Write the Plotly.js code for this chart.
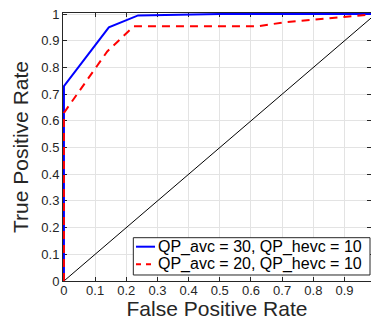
<!DOCTYPE html>
<html><head><meta charset="utf-8">
<script src="https://cdn.plot.ly/plotly-3.0.1.min.js"></script>
<style>html,body{margin:0;padding:0;background:#fff;}#chart{width:371px;height:320px;}</style>
</head><body><div id="chart"></div>
<script>
const seriesNames = ["QP_avc = 30, QP_hevc = 10", "QP_avc = 20, QP_hevc = 10"];
const seriesColors = ['#0000ff', '#ff0000'];
const fprAvc30 = [0, 0, 0.144, 0.238, 0.5, 1];
const tprAvc30 = [0, 0.73, 0.95, 0.995, 1, 1];
const fprAvc20 = [0, 0, 0.139, 0.224, 0.62, 0.7, 0.8, 0.9, 1];
const tprAvc20 = [0, 0.63, 0.86, 0.954, 0.954, 0.968, 0.979, 0.99, 1];
const chanceX = [0, 1];
const chanceY = [0, 1];

const FONT = 'Liberation Sans, Arial, Helvetica, sans-serif';
const data = [
  {x: chanceX, y: chanceY, mode: 'lines', line: {color: '#000', width: 1}, showlegend: false, hoverinfo: 'skip'},
  {x: fprAvc30, y: tprAvc30, mode: 'lines', name: seriesNames[0], line: {color: seriesColors[0], width: 2}, showlegend: false},
  {x: fprAvc20, y: tprAvc20, mode: 'lines', name: seriesNames[1], line: {color: seriesColors[1], width: 2, dash: '8px,6px'}, showlegend: false}
];
const axisCommon = {
  showgrid: true, gridcolor: '#e3e3e3', gridwidth: 1,
  showline: true, linecolor: '#262626', linewidth: 1,
  ticks: 'inside', ticklen: 4, tickcolor: '#262626', mirror: 'ticks',
  zeroline: false, dtick: 0.1, tick0: 0, layer: 'below traces',
  tickfont: {family: FONT, size: 13, color: '#262626'}
};
// manual legend (box, line samples, labels) in paper coordinates
const legBox = {x0: 0.2283, x1: 0.9968, y0: 0.0224, y1: 0.1616};
const legRows = [0.128, 0.0623];
const shapes = [
  {type: 'rect', xref: 'paper', yref: 'paper', x0: legBox.x0, x1: legBox.x1, y0: legBox.y0, y1: legBox.y1,
   line: {color: '#262626', width: 1}, fillcolor: '#fff', layer: 'above'}
];
const annotations = [];
seriesNames.forEach((nm, i) => {
  shapes.push({type: 'line', xref: 'paper', yref: 'paper', x0: 0.237, x1: 0.2987, y0: legRows[i], y1: legRows[i],
    line: {color: seriesColors[i], width: 2, dash: i === 1 ? '5px,5px' : 'solid'}, layer: 'above'});
  annotations.push({xref: 'paper', yref: 'paper', x: 0.302, y: legRows[i], xanchor: 'left', yanchor: 'middle',
    text: nm, showarrow: false, font: {family: FONT, size: 16, color: '#000'}});
});
const layout = {
  width: 371, height: 320,
  margin: {l: 63, r: 0, t: 13, b: 39},
  paper_bgcolor: '#fff', plot_bgcolor: '#fff',
  xaxis: Object.assign({}, axisCommon, {range: [-0.003, 0.985], ticklabelstandoff: -3,
    title: {text: 'False Positive Rate', standoff: 3, font: {family: FONT, size: 21, color: '#262626'}}}),
  yaxis: Object.assign({}, axisCommon, {range: [0, 1.004],
    title: {text: 'True Positive Rate', standoff: 6, font: {family: FONT, size: 21, color: '#262626'}}}),
  shapes: shapes, annotations: annotations,
  showlegend: false
};
Plotly.newPlot('chart', data, layout, {staticPlot: true});
</script></body></html>
